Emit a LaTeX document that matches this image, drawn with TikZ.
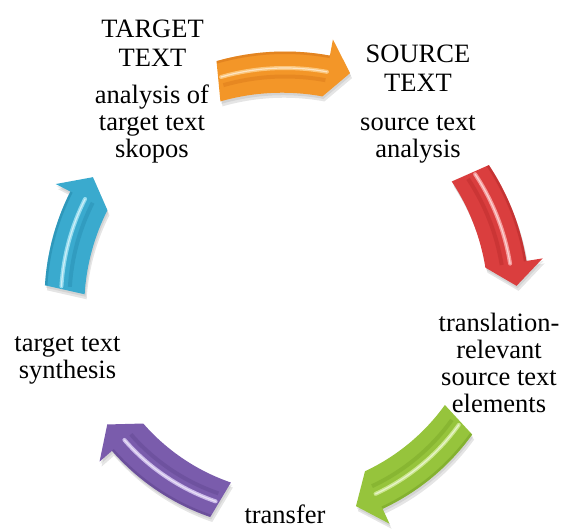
\documentclass[tikz,border=0pt]{standalone}
\usepackage{fontspec}
\setmainfont{Liberation Serif}

\definecolor{orangeA}{RGB}{243,150,40}
\definecolor{orangeL}{RGB}{255,214,150}
\definecolor{orangeD}{RGB}{205,105,20}
\definecolor{redA}{RGB}{218,62,62}
\definecolor{redL}{RGB}{255,185,185}
\definecolor{redD}{RGB}{170,35,35}
\definecolor{greenA}{RGB}{150,196,60}
\definecolor{greenL}{RGB}{222,242,170}
\definecolor{greenD}{RGB}{105,150,30}
\definecolor{purpleA}{RGB}{122,92,172}
\definecolor{purpleL}{RGB}{232,220,255}
\definecolor{purpleD}{RGB}{85,60,130}
\definecolor{cyanA}{RGB}{58,170,206}
\definecolor{cyanL}{RGB}{175,235,250}
\definecolor{cyanD}{RGB}{30,125,160}

% arrow geometry (pt)
\def\shaftw{12.5}
\def\headw{29}
\def\headlen{23}

% curved block arrow on a circle around the current origin:
% #1 base colour, #2 light, #3 dark, #4 radius, #5 start angle, #6 tip angle
\newcommand\cyclearrow[6]{%
  \pgfmathsetmacro\arrR{#4}%
  \pgfmathsetmacro\arrS{#5}%
  \pgfmathsetmacro\arrE{#6}%
  \pgfmathsetmacro\arrB{\arrE - sign(\arrE-\arrS)*\headlen/\arrR*180/pi}%
  \def\arrowpath{({\arrS}:{\arrR+\shaftw})
    arc[start angle=\arrS, end angle=\arrB, radius=\arrR+\shaftw]
    -- ({\arrB}:{\arrR+\headw}) -- ({\arrE}:{\arrR})
    -- ({\arrB}:{\arrR-\headw})
    arc[start angle=\arrB, end angle=\arrS, radius=\arrR-\shaftw] -- cycle}%
  \fill[black, opacity=.10, shift={(2,-5)}] \arrowpath;
  \fill[black, opacity=.08, shift={(1,-2.5)}] \arrowpath;
  \fill[#1] \arrowpath;
  \begin{scope}
    \clip \arrowpath;
    \draw[#3, line width=5pt, opacity=.4]
      ({\arrS}:{\arrR+\shaftw}) arc[start angle=\arrS, end angle=\arrB, radius=\arrR+\shaftw];
    \draw[#3, line width=4pt, opacity=.3]
      ({\arrS}:{\arrR-\shaftw}) arc[start angle=\arrS, end angle=\arrB, radius=\arrR-\shaftw];
    \draw[#2, line width=4pt, opacity=.75, line cap=round]
      ({\arrS}:{\arrR-4}) arc[start angle=\arrS, end angle=\arrB, radius=\arrR-4];
    \draw[white, line width=1.2pt, opacity=.55, line cap=round]
      ({\arrS}:{\arrR-4}) arc[start angle=\arrS, end angle=\arrB, radius=\arrR-4];
  \end{scope}
}

\tikzset{
  lbl/.style={font=\fontsize{26.5}{27}\selectfont, align=center,
    inner sep=0pt, anchor=base},
  ttl/.style={lbl, font=\fontsize{26.5}{29.5}\selectfont},
}

\begin{document}
\begin{tikzpicture}[x=1pt, y=1pt]
  \useasboundingbox (0,0) rectangle (567,528);

  % the five cycle arrows around a common centre
  \begin{scope}[shift={(285,228)}]
    \cyclearrow{orangeA}{orangeL}{orangeD}{236}{106}{74}
    \cyclearrow{redA}{redL}{redD}{232}{33.5}{3.5}
    \cyclearrow{greenA}{greenL}{greenD}{218}{-35.7}{-71}
    \cyclearrow{purpleA}{purpleL}{purpleD}{217}{251}{215}
    \cyclearrow{cyanA}{cyanL}{cyanD}{228}{176.5}{147.4}
  \end{scope}

  % stage labels (anchored at the baseline of their last line)
  \node[ttl] (tgtT) at (152.5,461) {TARGET\\TEXT};
  \node[lbl] (tgtB) at (152,370) {analysis of\\target text\\skopos};
  \node[ttl] (srcT) at (418,436) {SOURCE\\TEXT};
  \node[lbl] (srcB) at (418,370) {source text\\analysis};
  \node[lbl] (rel) at (499,116) {translation-\\relevant\\source text\\elements};
  \node[lbl] (trf) at (285,5) {transfer};
  \node[lbl] (syn) at (67.5,150) {target text\\synthesis};
\end{tikzpicture}
\end{document}
